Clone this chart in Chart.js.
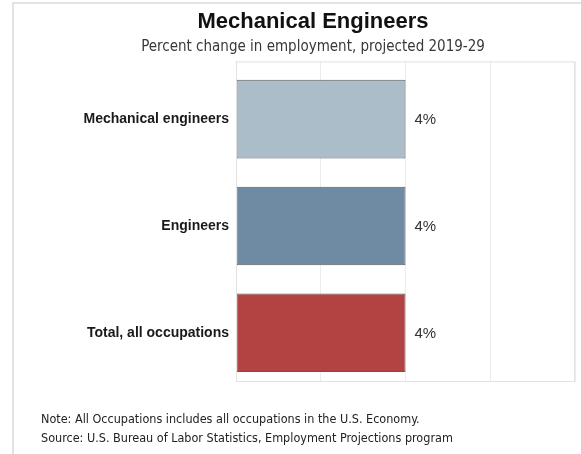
<!DOCTYPE html>
<html>
<head>
<meta charset="utf-8">
<script src="https://cdn.jsdelivr.net/npm/chart.js@4"></script>
<style>
  html, body { margin: 0; padding: 0; background: #fff; }
  #wrap { position: relative; width: 581px; height: 454px; overflow: hidden; }
  #frame { position: absolute; left: 12px; top: 2px; width: 600px; height: 500px;
           border-left: 2px solid #e3e3e3; border-top: 2px solid #e3e3e3; }
  canvas { position: absolute; left: 0; top: 0; }
  .note { position: absolute; left: 41px; font: 12.5px "DejaVu Sans Condensed", "DejaVu Sans", sans-serif;
          color: #222; white-space: nowrap; line-height: 15px; }
</style>
</head>
<body>
<div id="wrap">
  <div id="frame"></div>
  <canvas id="chart" width="581" height="454"></canvas>
  <div class="note" style="top:411px">Note: All Occupations includes all occupations in the U.S. Economy.</div>
  <div class="note" style="top:430px">Source: U.S. Bureau of Labor Statistics, Employment Projections program</div>
</div>
<script>
const categories = ['Mechanical engineers', 'Engineers', 'Total, all occupations'];
const values = [4, 4, 4];
const valueLabels = ['4%', '4%', '4%'];
const barColors = ['#abbdc9', '#6e8ba3', '#b34343'];

// Rahmen um die Plotfläche
const frameBox = {
  id: 'frameBox',
  afterDatasetsDraw(chart) {
    const { ctx, chartArea: a } = chart;
    ctx.save();
    ctx.strokeStyle = '#e2e2e2';
    ctx.lineWidth = 1;
    ctx.strokeRect(a.left + 0.5, a.top + 0.5, a.right - a.left - 1, a.bottom - a.top - 1);
    ctx.restore();
  }
};

// Werte rechts neben den Balken
const barValues = {
  id: 'barValues',
  afterDatasetsDraw(chart) {
    const { ctx } = chart;
    const meta = chart.getDatasetMeta(0);
    ctx.save();
    ctx.font = '15px "Liberation Sans", Arial, sans-serif';
    ctx.fillStyle = '#333';
    ctx.textAlign = 'left';
    ctx.textBaseline = 'middle';
    meta.data.forEach((bar, i) => {
      ctx.fillText(valueLabels[i], bar.x + 9, bar.y + 1);
    });
    ctx.restore();
  }
};

new Chart(document.getElementById('chart'), {
  type: 'bar',
  data: {
    labels: categories,
    datasets: [{
      data: values.map((v, i) => ({ x: v, y: i })),
      backgroundColor: barColors,
      borderColor: '#5c5c5c',
      borderWidth: 1,
      borderSkipped: false,
      barPercentage: 0.735,
      categoryPercentage: 1
    }]
  },
  options: {
    indexAxis: 'y',
    responsive: false,
    animation: false,
    layout: { padding: { top: 0, right: 6, bottom: 72, left: 51 } },
    plugins: {
      legend: { display: false },
      tooltip: { enabled: false },
      title: {
        display: true,
        text: 'Mechanical Engineers',
        color: '#111',
        font: { family: '"Liberation Sans", Arial, sans-serif', size: 22, weight: 'bold', lineHeight: 1.2 },
        padding: { top: 9, bottom: 1 }
      },
      subtitle: {
        display: true,
        text: 'Percent change in employment, projected 2019-29',
        color: '#383838',
        font: { family: '"DejaVu Sans Condensed", "DejaVu Sans", sans-serif', size: 15, lineHeight: 1.2 },
        padding: { top: 2, bottom: 5 }
      }
    },
    scales: {
      x: {
        min: 0,
        max: 8,
        ticks: { display: false, stepSize: 2 },
        grid: { color: '#ececec', drawTicks: false },
        border: { display: false }
      },
      y: {
        type: 'linear',
        reverse: true,
        offset: false,
        min: -0.54,
        max: 2.46,
        afterBuildTicks(scale) {
          scale.ticks = categories.map((c, i) => ({ value: i }));
        },
        afterFit(scale) { scale.width = 185; },
        grid: { display: false, drawTicks: false },
        border: { display: false },
        ticks: {
          padding: 7,
          color: '#1a1a1a',
          font: { family: '"Liberation Sans", Arial, sans-serif', size: 14, weight: 'bold' },
          callback: (v) => categories[v]
        }
      }
    }
  },
  plugins: [frameBox, barValues]
});
</script>
</body>
</html>
